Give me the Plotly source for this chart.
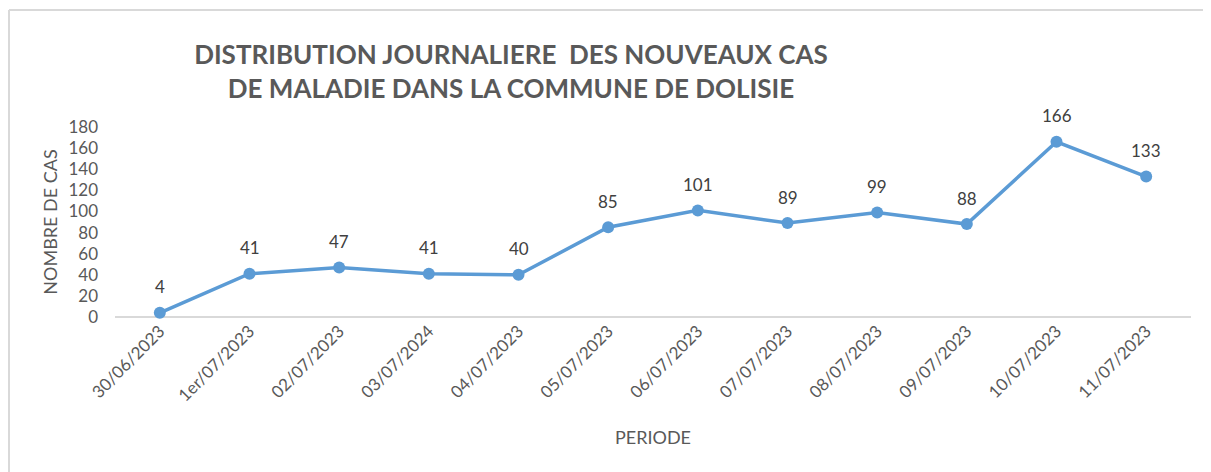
import plotly.graph_objects as go

# données du graphique
dates = ["30/06/2023", "1er/07/2023", "02/07/2023", "03/07/2024", "04/07/2023",
         "05/07/2023", "06/07/2023", "07/07/2023", "08/07/2023", "09/07/2023",
         "10/07/2023", "11/07/2023"]
cas = [4, 41, 47, 41, 40, 85, 101, 89, 99, 88, 166, 133]

police = "Lato"
gris = "#595959"
bleu = "#5B9BD5"

fig = go.Figure()
fig.add_trace(go.Scatter(
    x=dates, y=cas, mode="lines+markers",
    line=dict(color=bleu, width=3.5),
    marker=dict(color=bleu, size=12),
    cliponaxis=False,
))

# étiquettes des valeurs au-dessus des points
for d, v in zip(dates, cas):
    fig.add_annotation(x=d, y=v, text=str(v), showarrow=False,
                       yshift=26, font=dict(family=police, size=17, color="#404040"))

# la page ajoute une marge de 8 px : la figure fait 8 px de moins
fig.update_layout(
    width=1203, height=464,
    margin=dict(l=107, r=20, t=119, b=155),
    paper_bgcolor="white", plot_bgcolor="white",
    showlegend=False,
    font=dict(family=police, color=gris),
    title=dict(
        text="DISTRIBUTION JOURNALIERE  DES NOUVEAUX CAS<br>DE MALADIE DANS LA COMMUNE DE DOLISIE",
        x=503 / 1203, xanchor="center", xref="container",
        y=1 - 56 / 464, yanchor="middle", yref="container",
        font=dict(family=police, size=26, color=gris, weight="bold"),
    ),
    xaxis=dict(
        type="category", range=[-0.5, 11.5],
        tickangle=-45, tickfont=dict(size=17, color=gris),
        showgrid=False, showline=False, zeroline=False,
        title=dict(text="PERIODE", font=dict(size=18, color=gris), standoff=27),
    ),
    yaxis=dict(
        range=[0, 180], dtick=20,
        tickfont=dict(size=17, color=gris),
        showgrid=False, zeroline=True, zerolinecolor="#d9d9d9", zerolinewidth=1.5,
        showline=False, ticklabelstandoff=16,
        title=dict(text="NOMBRE DE CAS", font=dict(size=18, color=gris), standoff=6),
    ),
)

# cadre du graphique : seuls les bords gauche et haut sont visibles
gauche = (1 - 107) / 1076
haut = (317 - 10) / 190
for x0, y0, x1, y1 in [(gauche, -1.2, gauche, haut), (gauche, haut, 1.2, haut)]:
    fig.add_shape(type="line", xref="paper", yref="paper",
                  x0=x0, y0=y0, x1=x1, y1=y1,
                  line=dict(color="#d9d9d9", width=2), layer="below")

fig.write_html("out.html")
